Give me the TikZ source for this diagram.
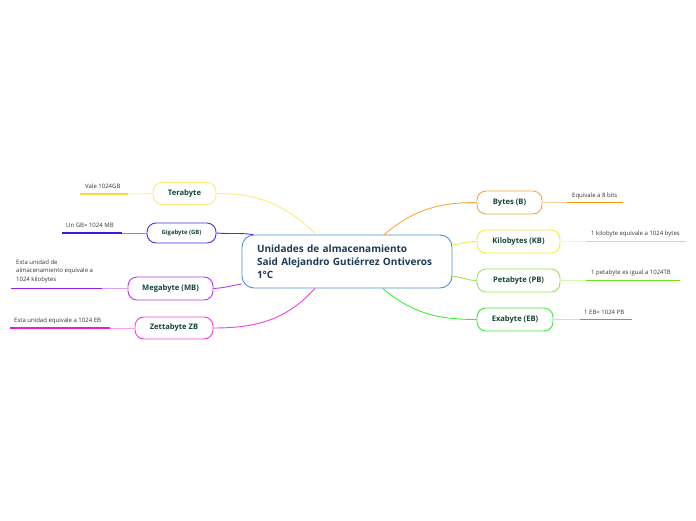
\documentclass[tikz,border=0pt]{standalone}
\usepackage{fontspec}
\setmainfont{Open Sans}
\definecolor{hubline}{HTML}{4A94D4}
\definecolor{hubtext}{HTML}{1B3A57}
\definecolor{topictext}{HTML}{14463A}
\definecolor{notetext}{HTML}{333333}
\definecolor{tera}{HTML}{FFE97A}
\definecolor{teradark}{HTML}{F8DC3C}
\definecolor{giga}{HTML}{4C2CF0}
\definecolor{gigadark}{HTML}{3A1CD8}
\definecolor{mega}{HTML}{B03CF0}
\definecolor{megadark}{HTML}{9A1EE0}
\definecolor{zetta}{HTML}{F040E0}
\definecolor{zettadark}{HTML}{E81CD0}
\definecolor{bytes}{HTML}{F8A83C}
\definecolor{bytesdark}{HTML}{F59200}
\definecolor{kilo}{HTML}{EEEE3A}
\definecolor{kilodark}{HTML}{E8E818}
\definecolor{peta}{HTML}{90EE48}
\definecolor{petadark}{HTML}{6EE01C}
\definecolor{exa}{HTML}{3AEE3A}
\definecolor{exadark}{HTML}{1EDC1E}
\begin{document}
\begin{tikzpicture}[x=1pt,y=-1pt,
  topic/.style={draw,rounded corners=9pt,line width=0.9pt,fill=white,
    minimum height=22pt,inner xsep=0pt,text=topictext,
    font=\bfseries\fontsize{7.6}{9}\selectfont},
  note/.style={inner sep=0pt,text=notetext,font=\fontsize{6}{8.7}\selectfont},
  branch/.style={line width=0.9pt},
  under/.style={line width=1.8pt}]
	\useasboundingbox (0,0) rectangle (696,520);

	%central topic
	\node[draw=hubline,line width=0.9pt,rounded corners=12pt,fill=white,
	  minimum width=210pt,minimum height=53pt,inner xsep=15pt,
	  text width=180pt,align=left,text=hubtext,
	  font=\bfseries\fontsize{10}{13}\selectfont] (hub) at (347,261.5)
	  {Unidades de almacenamiento\\Said Alejandro Gutiérrez Ontiveros\\1°C};

	%left topics
	\node[topic,draw=tera,minimum width=63pt] (terab) at (184.5,193.5) {Terabyte};
	\node[topic,draw=giga,minimum width=69pt,minimum height=20pt,
	  font=\bfseries\fontsize{5.9}{7}\selectfont] (gigab) at (181.5,233) {Gigabyte (GB)};
	\node[topic,draw=mega,minimum width=85pt,minimum height=23pt] (megab) at (170.5,288.5) {Megabyte (MB)};
	\node[topic,draw=zetta,minimum width=78pt] (zettab) at (174,328) {Zettabyte ZB};

	%right topics
	\node[topic,draw=bytes,minimum width=65pt,minimum height=23pt] (bytesb) at (509.5,202.5) {Bytes (B)};
	\node[topic,draw=kilo,minimum width=83pt,minimum height=23pt] (kilob) at (518.5,241.5) {Kilobytes (KB)};
	\node[topic,draw=peta,minimum width=83pt,minimum height=23pt] (petab) at (518.5,280.5) {Petabyte (PB)};
	\node[topic,draw=exa,minimum width=76pt,minimum height=23pt] (exab) at (515,319.5) {Exabyte (EB)};

	%branches
	\draw[branch,tera] (terab.east) to[out=0,in=135] (hub.139); %Terabyte
	\draw[branch,giga] (gigab.east) to[out=-5,in=172] (hub.164.5); %Gigabyte
	\draw[branch,mega] (megab.east) to[out=3,in=190] (hub.192); %Megabyte
	\draw[branch,zetta] (zettab.east) to[out=0,in=-132] (hub.220); %Zettabyte
	\draw[branch,bytes] (hub.36) to[out=40,in=180] (bytesb.west); %Bytes
	\draw[branch,kilo] (hub.9) to[out=5,in=180] (kilob.west); %Kilobytes
	\draw[branch,peta] (hub.-8) to[out=-3,in=180] (petab.west); %Petabyte
	\draw[branch,exa] (hub.-37) to[out=-40,in=180] (exab.west); %Exabyte

	%notes, left
	\coordinate (teraend) at (80,194); \coordinate (teramid) at (128,194);
	\draw[under,teradark] (teraend) -- (teramid);
	\draw[branch,tera!70] (teramid) -- (terab.west);
	\node[note,anchor=base west] (teranote) at (85,188.5) {Vale 1024GB};

	\coordinate (gigaend) at (62,233); \coordinate (gigamid) at (122,233);
	\draw[under,gigadark] (gigaend) -- (gigamid);
	\draw[branch,giga!60] (gigamid) -- (gigab.west);
	\node[note,anchor=base west] (giganote) at (66,227.5) {Un GB= 1024 MB};

	\coordinate (megaend) at (11,288.5); \coordinate (megamid) at (102,288.5);
	\draw[under,megadark] (megaend) -- (megamid);
	\draw[branch,mega!50] (megamid) -- (megab.west);
	\node[note,anchor=north west,align=left] (meganote) at (16,259.5)
	  {Esta unidad de\\almacenamiento equivale a\\1024 kilobytes};

	\coordinate (zettaend) at (10,328); \coordinate (zettamid) at (110,328);
	\draw[under,zettadark] (zettaend) -- (zettamid);
	\draw[branch,zetta!50] (zettamid) -- (zettab.west);
	\node[note,anchor=base west] (zettanote) at (14,322.5) {Esta unidad equivale a 1024 EB};

	%notes, right
	\coordinate (bytesmid) at (567,202.5); \coordinate (bytesend) at (623,202.5);
	\draw[branch,bytes!50] (bytesb.east) -- (bytesmid);
	\draw[under,bytesdark] (bytesmid) -- (bytesend);
	\node[note,anchor=base west] (bytesnote) at (572,197) {Equivale a 8 bits};

	\coordinate (kilomid) at (586,241.5); \coordinate (kiloend) at (686,241.5);
	\draw[branch,kilo!40] (kilob.east) -- (kilomid);
	\draw[under,kilodark] (kilomid) -- (kiloend);
	\node[note,anchor=base west] (kilonote) at (591,235.5) {1 kilobyte equivale a 1024 bytes};

	\coordinate (petamid) at (586,280.5); \coordinate (petaend) at (680,280.5);
	\draw[branch,peta!40] (petab.east) -- (petamid);
	\draw[under,petadark] (petamid) -- (petaend);
	\node[note,anchor=base west] (petanote) at (591,274.5) {1 petabyte es igual a 1024TB};

	\coordinate (examid) at (580,319.5); \coordinate (exaend) at (632,319.5);
	\draw[branch,exa!40] (exab.east) -- (examid);
	\draw[under,exadark] (examid) -- (exaend);
	\node[note,anchor=base west] (exanote) at (584,314.5) {1 EB= 1024 PB};
\end{tikzpicture}
\end{document}
